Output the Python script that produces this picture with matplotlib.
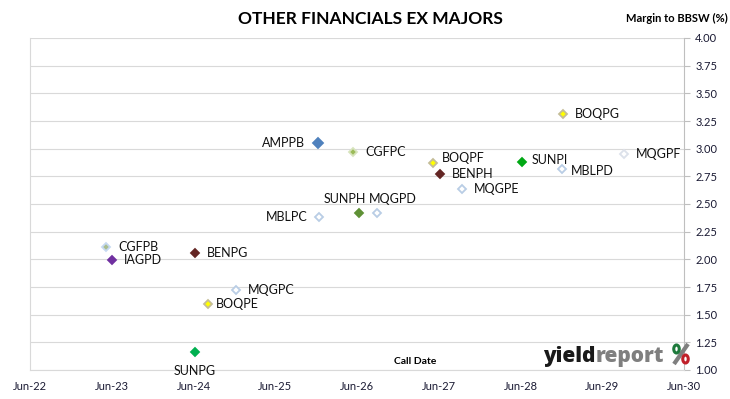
import matplotlib
matplotlib.use('Agg')
import matplotlib.pyplot as plt
import matplotlib.dates as mdates
from matplotlib.patches import Ellipse
from matplotlib.lines import Line2D
import pandas as pd

plt.rcParams['font.family'] = ['Lato', 'DejaVu Sans']

# securities: name, call date, margin to BBSW (%)
names = ['AMPPB', 'CGFPC', 'MBLPC', 'SUNPH', 'MQGPD', 'BOQPF', 'BENPH', 'MQGPE',
         'BOQPG', 'SUNPI', 'MBLPD', 'MQGPF', 'CGFPB', 'IAGPD', 'BENPG', 'MQGPC',
         'BOQPE', 'SUNPG']
call_dates = ['2025-12-08', '2026-05-16', '2025-12-15', '2026-06-12', '2026-08-31',
              '2027-05-06', '2027-06-08', '2027-09-14', '2028-12-07', '2028-06-08',
              '2028-12-01', '2029-09-07', '2023-05-08', '2023-06-04', '2024-06-08',
              '2024-12-08', '2024-08-05', '2024-06-08']
margins = [3.05, 2.97, 2.38, 2.42, 2.42, 2.87, 2.77, 2.64, 3.31, 2.88, 2.82, 2.95,
           2.11, 1.99, 2.06, 1.72, 1.60, 1.16]

year_ticks = ['2022-06-01', '2023-06-01', '2024-06-01', '2025-06-01', '2026-06-01',
              '2027-06-01', '2028-06-01', '2029-06-01', '2030-06-01']

# marker style per security: (face, edge, size)
style = {
    'AMPPB': ('#4f81bd', '#4f81bd', 5.5),
    'CGFPC': ('#9bbb59', '#d7e4bd', 4),
    'CGFPB': ('#a9bd8f', '#c6d9f1', 4),
    'BOQPF': ('#ffff00', '#c4bd97', 4),
    'BOQPG': ('#ffff00', '#c4bd97', 4),
    'BOQPE': ('#ffff00', '#c4bd97', 4),
    'BENPH': ('#632523', '#632523', 4),
    'BENPG': ('#632523', '#632523', 4),
    'SUNPH': ('#5f9136', '#5f9136', 4),
    'SUNPI': ('#00a814', '#00a814', 4),
    'SUNPG': ('#00b050', '#00b050', 4),
    'IAGPD': ('#7030a0', '#7030a0', 4),
    'MQGPF': ('white', '#dce1ea', 4),
}
hollow = ('white', '#b9cde5', 4)

# label offsets in pixels (dx, dy, ha)
label_pos = {
    'AMPPB': (-13, 0, 'right'), 'MBLPC': (-12, 0, 'right'),
    'SUNPH': (7, 14, 'right'), 'MQGPD': (-8, 14, 'left'),
    'BOQPF': (9, 5, 'left'), 'SUNPI': (9, 2, 'left'), 'MBLPD': (9, -2, 'left'),
    'BOQPE': (8, 0, 'left'), 'SUNPG': (0, -19, 'center'),
}

fig = plt.figure(figsize=(7.3, 3.99), dpi=100)
ax = fig.add_axes([30 / 730, 1 - 370 / 399, 654 / 730, 332 / 399])

dates = pd.to_datetime(call_dates)
for n, d, m in zip(names, dates, margins):
    fc, ec, ms = style.get(n, hollow)
    ax.plot(d, m, marker='D', linestyle='none', markersize=ms,
            markerfacecolor=fc, markeredgecolor=ec, markeredgewidth=1.3, zorder=3)
    dx, dy, ha = label_pos.get(n, (12, 0, 'left'))
    ax.annotate(n, (d, m), xytext=(dx, dy), textcoords='offset pixels',
                ha=ha, va='center', fontsize=9, color='#111111', zorder=4)

ax.set_xlim(pd.Timestamp(year_ticks[0]), pd.Timestamp(year_ticks[-1]))
ax.set_ylim(1.0, 4.0)
ax.set_xticks(pd.to_datetime(year_ticks))
ax.xaxis.set_major_formatter(mdates.DateFormatter('%b-%y'))
ax.set_yticks([1 + 0.25 * i for i in range(13)])
ax.yaxis.set_major_formatter(plt.FuncFormatter(lambda v, p: '%.2f' % v))
ax.yaxis.tick_right()
ax.tick_params(axis='y', length=4, width=0.8, color='#bfbfbf', labelsize=8,
               labelcolor='#1a1a33', pad=4)
ax.tick_params(axis='x', length=0, labelsize=8, labelcolor='#1a1a33', pad=8)
ax.grid(axis='y', color='#d9d9d9', linewidth=0.8)
ax.set_axisbelow(True)
for s in ['left', 'bottom', 'right']:
    ax.spines[s].set_color('#d9d9d9')
ax.spines['right'].set_color('#bfbfbf')
ax.spines['top'].set_visible(False)

fig.text(370 / 730, 1 - 19 / 399, 'OTHER FINANCIALS EX MAJORS', ha='center', va='center',
         fontsize=12.5, fontweight='bold', color='black')
fig.text(677 / 730, 1 - 18 / 399, 'Margin to BBSW (%)', ha='center', va='center',
         fontsize=8, fontweight='bold', color='black')
fig.text(415 / 730, 1 - 362 / 399, 'Call Date', ha='center', va='center',
         fontsize=7.5, fontweight='bold', color='black')

# yieldreport logo
r = fig.canvas.get_renderer()
base = 1 - 362 / 399
t1 = fig.text(543 / 730, base, 'yield', ha='left', va='baseline', fontsize=15,
              fontweight='heavy', color='#1a1a1a', family='Open Sans')
w1 = t1.get_window_extent(r).width
t2 = fig.text((543 + w1) / 730, base, 'report', ha='left', va='baseline', fontsize=15,
              fontweight='heavy', color='#7f7f7f', family='Open Sans')
# percent sign: grey slash, green and red rings (display pixels, origin bottom-left)
fig.lines.append(Line2D([674, 688], [399 - 364, 399 - 344], transform=None,
                        color='#7f7f7f', linewidth=3, solid_capstyle='butt'))
fig.patches.append(Ellipse((676.5, 399 - 349), 5.5, 8, transform=None,
                           facecolor='white', edgecolor='#1e7a3c', linewidth=2.2, zorder=5))
fig.patches.append(Ellipse((685.5, 399 - 359), 5.5, 8, transform=None,
                           facecolor='white', edgecolor='#c0202a', linewidth=2.2, zorder=5))

fig.savefig('out.png', dpi=100)
